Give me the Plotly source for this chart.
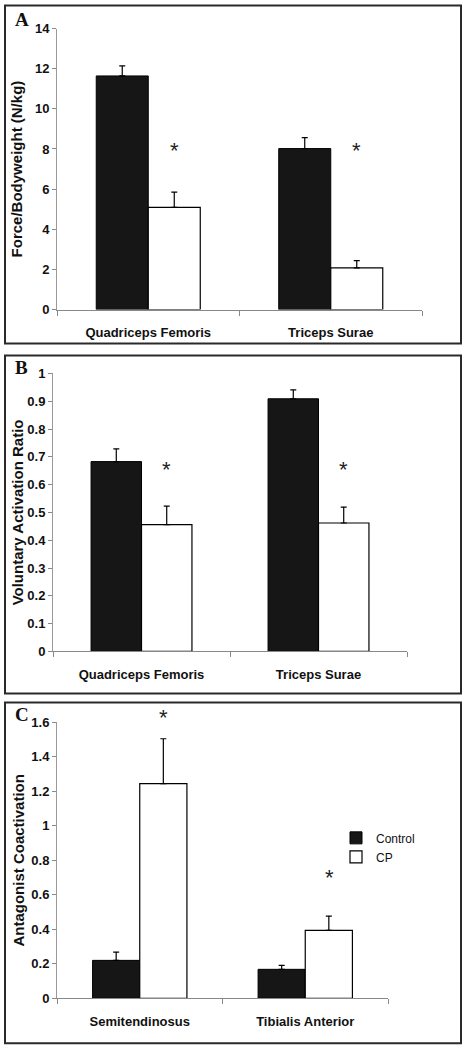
import plotly.graph_objects as go

# ---------------- data ----------------
groups = ["Control", "CP"]

cats_a = ["Quadriceps Femoris", "Triceps Surae"]
force_control = [11.64, 8.02]
force_control_err = [0.5, 0.55]
force_cp = [5.09, 2.07]
force_cp_err = [0.76, 0.37]
force_sig_y = [8.0, 8.0]

cats_b = ["Quadriceps Femoris", "Triceps Surae"]
act_control = [0.683, 0.909]
act_control_err = [0.046, 0.032]
act_cp = [0.456, 0.462]
act_cp_err = [0.067, 0.057]
act_sig_y = [0.662, 0.662]

cats_c = ["Semitendinosus", "Tibialis Anterior"]
coact_control = [0.22, 0.168]
coact_control_err = [0.048, 0.023]
coact_cp = [1.245, 0.394]
coact_cp_err = [0.26, 0.083]
coact_sig_y = [1.64, 0.713]

y_titles = ["Force/Bodyweight (N/kg)", "Voluntary Activation Ratio", "Antagonist Coactivation"]
panel_letters = ["A", "B", "C"]

# ---------------- figure ----------------
W, H = 468, 1050
SY, OY = 0.986, 6.4          # compensation for page rendering offset


def fy(px):
    """Pixel row (from top) -> paper fraction."""
    return 1 - ((px - OY) / SY) / H


FONT = "Liberation Sans, Arial, sans-serif"
fig = go.Figure()

panels = [
    dict(cats=cats_a, c=force_control, ce=force_control_err, p=force_cp, pe=force_cp_err, sig=force_sig_y,
         x=(57, 422), y=(28, 309), rng=[0, 14], dtick=2, shift=26, box=(5, 343), letter_y=19, standoff=8),
    dict(cats=cats_b, c=act_control, ce=act_control_err, p=act_cp, pe=act_cp_err, sig=act_sig_y,
         x=(53, 407), y=(373, 651), rng=[0, 1], dtick=0.1, shift=25, box=(355, 693), letter_y=367, standoff=0),
    dict(cats=cats_c, c=coact_control, ce=coact_control_err, p=coact_cp, pe=coact_cp_err, sig=coact_sig_y,
         x=(57, 388), y=(722, 998), rng=[0, 1.6], dtick=0.2, shift=24, box=(702, 1043), letter_y=714, standoff=3),
]

annotations = []
shapes = []
layout_axes = {}
for i, pn in enumerate(panels):
    n = "" if i == 0 else str(i + 1)
    xa, ya = "x" + n, "y" + n
    show = (i == 2)
    fig.add_trace(go.Bar(
        x=pn["cats"], y=pn["c"], name=groups[0], xaxis=xa, yaxis=ya, showlegend=show,
        marker=dict(color="#161616", line=dict(color="#000000", width=1)),
        error_y=dict(type="data", symmetric=False, array=pn["ce"], arrayminus=[0] * len(pn["ce"]),
                     color="#000000", thickness=1.2, width=3),
    ))
    fig.add_trace(go.Bar(
        x=pn["cats"], y=pn["p"], name=groups[1], xaxis=xa, yaxis=ya, showlegend=show,
        marker=dict(color="#ffffff", line=dict(color="#000000", width=1.2)),
        error_y=dict(type="data", symmetric=False, array=pn["pe"], arrayminus=[0] * len(pn["pe"]),
                     color="#000000", thickness=1.2, width=3),
    ))
    for cat, sy in zip(pn["cats"], pn["sig"]):
        annotations.append(dict(x=cat, y=sy / pn["rng"][1], xref=xa, yref=ya + " domain", text="*",
                                showarrow=False, xshift=pn["shift"], yshift=-2, yanchor="middle",
                                font=dict(family=FONT, size=22, color="#222222")))
    annotations.append(dict(x=13 / W, y=fy(pn["letter_y"]), xref="paper", yref="paper",
                            text="<b>%s</b>" % panel_letters[i], showarrow=False,
                            xanchor="left", yanchor="middle",
                            font=dict(family="Liberation Serif, Times New Roman, serif", size=19, color="#111111")))
    shapes.append(dict(type="rect", xref="paper", yref="paper",
                       x0=5 / W, x1=461 / W, y0=fy(pn["box"][1]), y1=fy(pn["box"][0]),
                       line=dict(color="#2a2a2a", width=2), fillcolor="rgba(0,0,0,0)"))
    layout_axes["xaxis" + n] = dict(
        domain=[pn["x"][0] / W, pn["x"][1] / W], anchor=ya,
        showline=True, linecolor="#888888", linewidth=1,
        ticks="outside", tickson="boundaries", ticklen=5, tickcolor="#888888",
        ticklabelstandoff=11,
        tickfont=dict(family=FONT, size=13, color="#111111", weight="bold"),
        showgrid=False, zeroline=False, fixedrange=True,
    )
    layout_axes["yaxis" + n] = dict(
        domain=[fy(pn["y"][1]), fy(pn["y"][0])], anchor=xa,
        range=pn["rng"], dtick=pn["dtick"], tick0=0,
        showline=True, linecolor="#999999", linewidth=1,
        ticks="outside", ticklen=4, tickcolor="#888888",
        tickfont=dict(family=FONT, size=13, color="#111111", weight="bold"),
        showgrid=False, zeroline=False, fixedrange=True,
        title=dict(text=y_titles[i], standoff=pn["standoff"],
                   font=dict(family=FONT, size=15, color="#111111", weight="bold")),
    )

fig.update_layout(
    width=W, height=H,
    margin=dict(l=0, r=0, t=0, b=0),
    paper_bgcolor="white", plot_bgcolor="white",
    barmode="group", bargap=0.43, bargroupgap=0,
    annotations=annotations, shapes=shapes,
    legend=dict(x=336 / W, y=fy(823), xanchor="left", yanchor="top",
                bgcolor="rgba(0,0,0,0)", itemwidth=30, tracegroupgap=0,
                font=dict(family="Liberation Sans Narrow, " + FONT, size=12, color="#111111")),
    **layout_axes,
)

fig.write_html("out.html", config={"displayModeBar": False},
               post_script="document.body.style.margin='0';document.body.style.overflow='hidden';")
